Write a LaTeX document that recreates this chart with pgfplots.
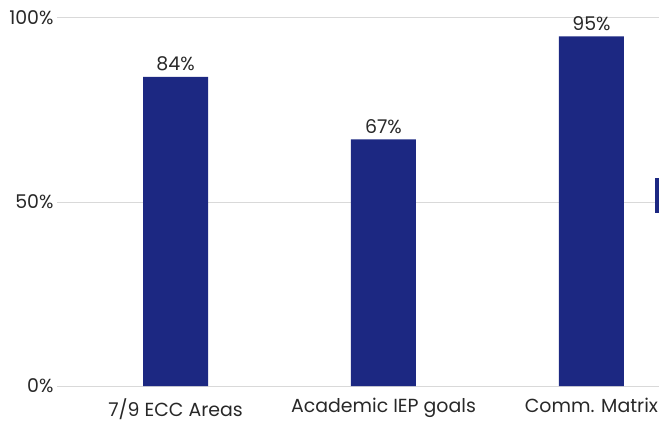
\documentclass[border=0pt]{standalone}
\usepackage{pgfplots}
\pgfplotsset{compat=1.18}
\usepackage{fontspec}
\setmainfont{Poppins}
\definecolor{barblue}{RGB}{28,40,130}
\definecolor{gridgray}{RGB}{217,217,217}
\definecolor{txt}{RGB}{40,40,40}
\begin{document}
\begin{tikzpicture}
\useasboundingbox (-57bp,-40bp) rectangle (602bp,386bp);
\begin{axis}[
  at={(0,0)}, anchor=south west,
  scale only axis,
  width=602bp, height=368bp,
  xmin=-0.57, xmax=2.325,
  ymin=0, ymax=100,
  axis line style={draw=none},
  ytick={0,50,100},
  yticklabels={0\%,50\%,100\%},
  xtick={0,1,2},
  xticklabels={7/9 ECC Areas,Academic IEP goals,Comm. Matrix},
  major tick length=0pt,
  ymajorgrids,
  grid style={gridgray, line width=1pt},
  ticklabel style={font=\fontsize{19}{22}\selectfont, text=txt},
  yticklabel style={xshift=0bp},
  xticklabel style={yshift=-9bp},
  /pgf/number format/assume math mode=true,
  clip=false,
]
\addplot[ybar, bar width=65bp, fill=barblue, draw=none,
  nodes near coords={\pgfmathprintnumber{\pgfplotspointmeta}\%},
  every node near coord/.append style={font=\fontsize{19}{22}\selectfont, text=txt, yshift=2bp}]
  coordinates {(0,84) (1,67) (2,95)};
\end{axis}
\fill[barblue] (598bp,173bp) rectangle (602bp,208bp);
\end{tikzpicture}
\end{document}
